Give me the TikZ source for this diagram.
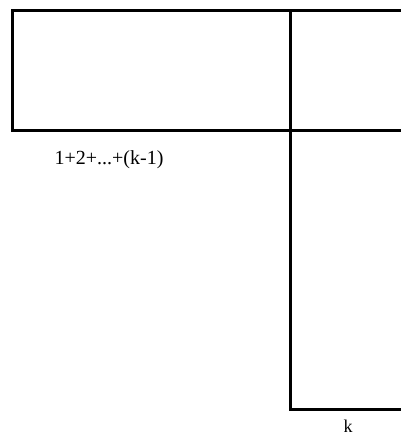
\documentclass[tikz,border=0pt]{standalone}
\usepackage{fontspec}
\setmainfont{Liberation Serif}
\begin{document}
\begin{tikzpicture}[x=1pt,y=-1pt,
  edge/.style={line width=3pt,line cap=rect,black},
  lbl/.style={font=\fontsize{18}{20}\selectfont,inner sep=0pt,anchor=base}]
\useasboundingbox (0,0) rectangle (400,437);
\coordinate (tl) at (12,10);
\coordinate (bl) at (12,130);
\coordinate (tr) at (400,10);
\coordinate (mr) at (400,130);
\coordinate (vt) at (290,10);
\coordinate (vb) at (290,409);
\coordinate (br) at (400,409);
\draw[edge] (tr) -- (tl) -- (bl) -- (mr);
\draw[edge] (vt) -- (vb) -- (br);
\node[lbl,font=\fontsize{20}{22}\selectfont] (sum) at (109,164) {1+2+...+(k-1)};
\node[lbl] (k) at (348,432) {k};
\end{tikzpicture}
\end{document}
